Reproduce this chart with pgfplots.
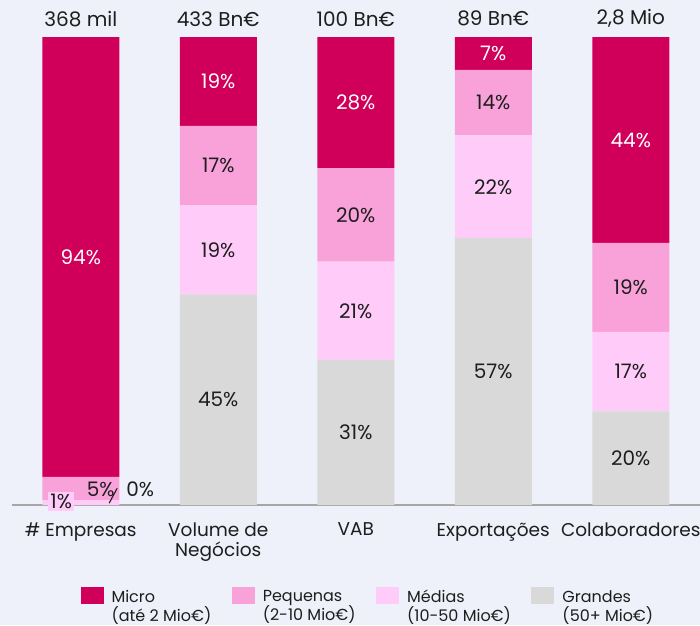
\documentclass[border=0pt]{standalone}
\usepackage{fontspec}
\setmainfont{Poppins}
\usepackage{pgfplots}
\pgfplotsset{compat=1.18}
\definecolor{bg}{HTML}{EEF1F9}
\definecolor{micro}{HTML}{D0005A}
\definecolor{peq}{HTML}{F9A2DA}
\definecolor{med}{HTML}{FFCCFA}
\definecolor{gra}{HTML}{D9D9D9}
\definecolor{txt}{HTML}{1E1E1E}
\definecolor{axl}{HTML}{A6A6A6}
\newcommand{\lf}{\fontsize{20}{22}\selectfont}
\newcommand{\cf}{\fontsize{18.5}{20}\selectfont}
\newcommand{\legtwo}[2]{\begin{tabular}{@{}l@{}}#1\\#2\end{tabular}}
\pgfplotsset{base/.style={
  at={(0,0)}, anchor=south west,
  scale only axis, width=687.5pt, height=468pt,
  xmin=-0.5, xmax=4.5, ymin=0, ymax=100, clip=false}}
\begin{document}
\begin{tikzpicture}[x=1pt,y=1pt]
\fill[bg] (-12,-120) rectangle (688,505);
\useasboundingbox (-12,-120) rectangle (688,505);
\begin{axis}[
  base,
  ybar stacked, bar width=77pt,
  axis x line*=bottom, hide y axis,
  axis line style={draw=axl, line width=1.2pt, -},
  xtick={0,1,2,3,4},
  xticklabels={\# Empresas, Volume de\\Negócios, VAB, Exportações, Colaboradores},
  xticklabel style={align=center, font=\cf, text=txt, yshift=-14.5pt},
  major tick length=0pt,
  ytick=\empty,
  legend columns=4,
  legend cell align=left,
  legend style={at={(rel axis cs:0.095,-0.171)}, anchor=north west, draw=none, fill=none,
    font=\fontsize{16}{14.5}\selectfont, text=txt,
    /tikz/every odd column/.append style={column sep=6pt},
    /tikz/every even column/.append style={column sep=18.5pt}},
  legend image code/.code={\fill[#1, draw=none] (0pt,-2.2pt) rectangle (23pt,14.8pt);},
]
\addlegendimage{fill=micro}
\addlegendentry{\legtwo{Micro}{(até 2 Mio€)}}
\addlegendimage{fill=peq}
\addlegendentry{\legtwo{Pequenas}{(2-10 Mio€)}}
\addlegendimage{fill=med}
\addlegendentry{\legtwo{Médias}{(10-50 Mio€)}}
\addlegendimage{fill=gra}
\addlegendentry{\legtwo{Grandes}{(50+ Mio€)}}
\addplot[fill=gra, draw=none, forget plot] coordinates {(0,0) (1,45) (2,31) (3,57) (4,20)};
\addplot[fill=med, draw=none, forget plot] coordinates {(0,1) (1,19) (2,21) (3,22) (4,17)};
\addplot[fill=peq, draw=none, forget plot] coordinates {(0,5) (1,17) (2,20) (3,14) (4,19)};
\addplot[fill=micro, draw=none, forget plot] coordinates {(0,94) (1,19) (2,28) (3,7) (4,44)};
\end{axis}
\begin{axis}[base, hide axis]
% totals
\node[font=\lf, text=txt] at (axis cs:0,103.9) {368 mil};
\node[font=\lf, text=txt] at (axis cs:1,103.9) {433 Bn€};
\node[font=\lf, text=txt] at (axis cs:2,103.9) {100 Bn€};
\node[font=\lf, text=txt] at (axis cs:3,103.9) {89 Bn€};
\node[font=\lf, text=txt] at (axis cs:4,103.9) {2,8 Mio};
% micro labels (white)
\node[font=\lf, text=white] at (axis cs:0,53) {94\%};
\node[font=\lf, text=white] at (axis cs:1,90.5) {19\%};
\node[font=\lf, text=white] at (axis cs:2,86) {28\%};
\node[font=\lf, text=white] at (axis cs:3,96.5) {7\%};
\node[font=\lf, text=white] at (axis cs:4,78) {44\%};
% pequenas
\node[font=\lf, text=txt] at (axis cs:1,72.5) {17\%};
\node[font=\lf, text=txt] at (axis cs:2,62) {20\%};
\node[font=\lf, text=txt] at (axis cs:3,86) {14\%};
\node[font=\lf, text=txt] at (axis cs:4,46.5) {19\%};
% medias
\node[font=\lf, text=txt] at (axis cs:1,54.5) {19\%};
\node[font=\lf, text=txt] at (axis cs:2,41.5) {21\%};
\node[font=\lf, text=txt] at (axis cs:3,68) {22\%};
\node[font=\lf, text=txt] at (axis cs:4,28.5) {17\%};
% grandes
\node[font=\lf, text=txt] at (axis cs:1,22.5) {45\%};
\node[font=\lf, text=txt] at (axis cs:2,15.5) {31\%};
\node[font=\lf, text=txt] at (axis cs:3,28.5) {57\%};
\node[font=\lf, text=txt] at (axis cs:4,10) {20\%};
% first bar small segments
\node[font=\lf, text=txt, fill=med, inner sep=2pt] at (axis cs:-0.142,0.75) {1\%};
\node[font=\lf, text=txt] at (axis cs:0.145,3.4) {5\%};
\node[font=\lf, text=txt] at (axis cs:0.433,3.4) {0\%};
\draw[txt, line width=1.1pt] (axis cs:0.207,0.4) -- (axis cs:0.265,3.6);
\end{axis}
\end{tikzpicture}
\end{document}
